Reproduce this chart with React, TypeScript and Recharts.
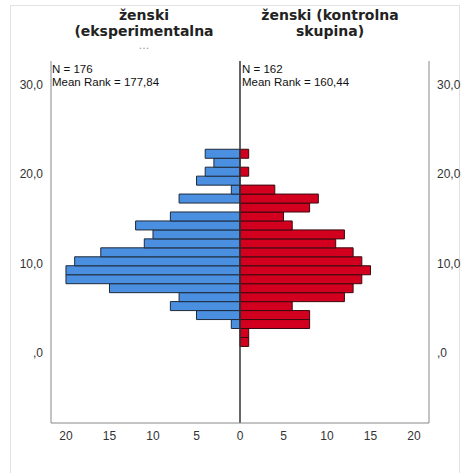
import { BarChart, Bar, XAxis, YAxis, ReferenceLine } from 'recharts'

// bin midpoints, bottom to top
const binMid = [
  1.25, 2.25, 3.25, 4.25, 5.25, 6.25, 7.25, 8.25, 9.25, 10.25, 11.25,
  12.25, 13.25, 14.25, 15.25, 16.25, 17.25, 18.25, 19.25, 20.25, 21.25, 22.25,
]
// ženski (eksperimentalna ...)
const expCounts = [0, 0, 1, 5, 8, 7, 15, 20, 20, 19, 16, 11, 10, 12, 8, 0, 7, 1, 5, 4, 3, 4]
// ženski (kontrolna skupina)
const ctrlCounts = [1, 1, 8, 8, 6, 12, 13, 14, 15, 14, 13, 11, 12, 6, 5, 8, 9, 4, 0, 1, 0, 1]

const xTicks = [-20, -15, -10, -5, 0, 5, 10, 15, 20]
const yTicks = [0, 10, 20, 30]

const expTitle = ['ženski', '(eksperimentalna']
const ctrlTitle = ['ženski (kontrolna', 'skupina)']
const expStats = ['N = 176', 'Mean Rank = 177,84']
const ctrlStats = ['N = 162', 'Mean Rank = 160,44']

const rows = binMid.map((b, i) => ({ bin: b, exp: -expCounts[i], ctrl: ctrlCounts[i] }))

const fmtY = (v: number) => (v === 0 ? ',0' : `${v},0`)
const tickStyle = { fontSize: 12, fill: '#333', fontFamily: 'Arial, "Liberation Sans", sans-serif' }

const titleStyle: React.CSSProperties = {
  position: 'absolute',
  top: 7,
  textAlign: 'center',
  fontFamily: '"DejaVu Sans", sans-serif',
  fontWeight: 'bold',
  fontSize: 14,
  lineHeight: '16px',
  color: '#222',
}

const statStyle: React.CSSProperties = {
  position: 'absolute',
  top: 63,
  fontFamily: 'Arial, "Liberation Sans", sans-serif',
  fontSize: 11.5,
  lineHeight: '13px',
  color: '#111',
  whiteSpace: 'nowrap',
}

export default function App() {
  return (
    <div style={{ position: 'absolute', left: 0, top: 0, width: 469, height: 473, background: '#fff', overflow: 'hidden' }}>
      <div
        style={{
          position: 'absolute', left: 10, top: 5, width: 450, height: 480,
          border: '1px solid #e2e2e2', boxSizing: 'border-box',
        }}
      />
      <BarChart
        layout="vertical"
        width={469}
        height={473}
        data={rows}
        margin={{ top: 61, right: 0, left: 6, bottom: 20 }}
        barCategoryGap={0}
        barGap={0}
        stackOffset="sign"
      >
        <XAxis
          type="number"
          domain={[-21.72, 21.72]}
          ticks={xTicks}
          tickFormatter={(v: number) => String(Math.abs(v))}
          tickLine={false}
          axisLine={{ stroke: '#888' }}
          tick={tickStyle}
          allowDataOverflow
        />
        <YAxis
          yAxisId="left"
          type="number"
          dataKey="bin"
          domain={[-7.8, 32.6]}
          ticks={yTicks}
          tickFormatter={fmtY}
          reversed
          tickLine={false}
          axisLine={{ stroke: '#888' }}
          tick={tickStyle}
          width={45}
          allowDataOverflow
        />
        <YAxis
          yAxisId="right"
          orientation="right"
          type="number"
          dataKey="bin"
          domain={[-7.8, 32.6]}
          ticks={yTicks}
          tickFormatter={fmtY}
          reversed
          tickLine={false}
          axisLine={{ stroke: '#888' }}
          tick={tickStyle}
          width={40}
          allowDataOverflow
        />
        <Bar yAxisId="left" dataKey="exp" stackId="p" fill="#4a8fe0" stroke="#1e2a3a" strokeWidth={1} isAnimationActive={false} />
        <Bar yAxisId="left" dataKey="ctrl" stackId="p" fill="#d2001e" stroke="#3a0a10" strokeWidth={1} isAnimationActive={false} />
        <ReferenceLine yAxisId="left" x={0} stroke="#333" strokeWidth={1.5} />
      </BarChart>
      <div style={{ ...titleStyle, left: 51, width: 186 }}>
        {expTitle.map((t) => <div key={t}>{t}</div>)}
        <div style={{ color: '#999', fontWeight: 'normal', fontSize: 11, lineHeight: '14px' }}>...</div>
      </div>
      <div style={{ ...titleStyle, left: 240, width: 180 }}>
        {ctrlTitle.map((t) => <div key={t}>{t}</div>)}
      </div>
      <div style={{ ...statStyle, left: 52 }}>
        {expStats.map((t) => <div key={t}>{t}</div>)}
      </div>
      <div style={{ ...statStyle, left: 242 }}>
        {ctrlStats.map((t) => <div key={t}>{t}</div>)}
      </div>
    </div>
  )
}
